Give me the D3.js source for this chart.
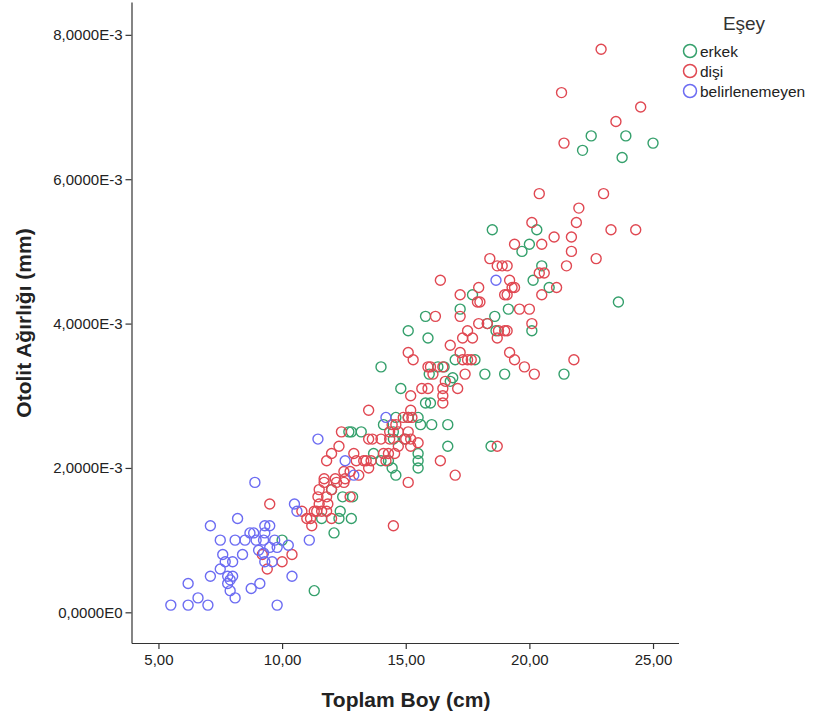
<!DOCTYPE html>
<html>
<head>
<meta charset="utf-8">
<script src="https://cdn.jsdelivr.net/npm/d3@7"></script>
<style>
  body { margin: 0; background: #fff; }
  text { font-family: "Liberation Sans", Arial, sans-serif; }
</style>
</head>
<body>
<svg id="chart" width="815" height="720"></svg>
<script>
// Otolith weight (×10⁻³ mm) against total length (cm), grouped by sex.
const groups = ["erkek", "dişi", "belirlenemeyen"];
const groupColors = ["#35a06c", "#e04852", "#6c6cf2"];

// [Toplam Boy (cm), Otolit Ağırlığı (×10⁻³)]
const erkek = [
  [25.0,6.5],[23.9,6.6],[22.5,6.6],[22.15,6.4],[23.75,6.3],[23.6,4.3],
  [18.5,5.3],[20.3,5.3],[19.7,5.0],[20.0,5.1],[20.5,4.8],[20.15,4.6],[20.8,4.5],
  [17.7,4.4],[17.2,4.2],[18.6,4.1],[19.15,4.2],[20.1,3.9],
  [15.8,4.1],[15.1,3.9],[15.9,3.8],[14.0,3.4],[17.0,3.5],[17.8,3.5],[18.2,3.3],[19.0,3.3],[21.4,3.3],
  [14.8,3.1],[16.0,2.9],[15.8,2.9],[16.55,3.4],[16.8,3.2],[16.9,3.25],
  [15.5,2.7],[15.1,2.7],[14.6,2.7],[14.1,2.6],[16.05,2.6],[16.7,2.6],[15.6,2.6],[16.7,2.3],
  [12.8,2.5],[13.2,2.5],[12.7,2.5],[13.7,2.2],[14.0,2.1],[14.3,2.1],[14.45,2.0],[14.6,1.9],
  [15.5,2.2],[15.5,2.1],[15.5,2.0],[18.45,2.3],
  [12.45,1.6],[12.85,1.6],[12.8,1.3],[12.3,1.3],[12.1,1.1],[11.6,1.3],[11.3,0.3],[10.0,1.0],[12.35,1.4],
  [14.5,2.5],[14.5,2.4],[14.95,2.4],[18.3,4.0],[18.65,3.9],[16.3,3.4],[15.95,3.3],[12.0,1.7]
];

const disi = [
  [22.9,7.8],[21.3,7.2],[24.5,7.0],[23.5,6.8],[21.4,6.5],
  [20.4,5.8],[23.0,5.8],[22.0,5.6],[21.9,5.4],[20.1,5.4],[23.3,5.3],[24.3,5.3],
  [21.0,5.2],[21.7,5.2],[19.4,5.1],[20.5,5.1],[21.7,5.0],[22.7,4.9],[18.4,4.9],[21.5,4.8],
  [18.7,4.8],[18.9,4.8],[19.1,4.8],[20.4,4.7],[20.6,4.7],[16.4,4.6],[19.2,4.6],
  [17.95,4.5],[19.3,4.5],[19.4,4.5],[21.1,4.5],[17.2,4.4],[19.0,4.4],[19.1,4.4],[20.5,4.4],
  [17.9,4.3],[18.0,4.3],[19.6,4.2],[20.0,4.2],[16.2,4.1],[17.2,4.1],[18.3,4.0],[17.95,4.0],[20.1,4.0],
  [17.5,3.9],[18.75,3.9],[19.0,3.9],[19.1,3.9],[17.3,3.8],[17.7,3.8],[18.7,3.8],[16.8,3.7],
  [15.1,3.6],[17.2,3.6],[19.2,3.6],[15.3,3.5],[17.3,3.5],[17.5,3.5],[17.65,3.5],[21.8,3.5],
  [16.0,3.4],[15.9,3.4],[16.5,3.4],[19.8,3.4],[16.1,3.3],[17.4,3.3],[20.2,3.3],[19.4,3.5],
  [16.6,3.2],[16.5,3.1],[17.1,3.1],[15.65,3.1],[15.9,3.1],[15.2,3.0],[16.5,3.0],[16.5,2.9],
  [13.5,2.8],[15.2,2.8],[15.1,2.7],[15.25,2.7],[14.9,2.7],[14.45,2.6],[14.6,2.6],
  [12.4,2.5],[14.35,2.5],[15.1,2.5],[14.7,2.5],[13.5,2.4],[14.0,2.4],[14.35,2.4],[15.0,2.4],[15.2,2.4],[13.65,2.4],
  [14.7,2.3],[15.2,2.3],[15.5,2.35],[12.3,2.3],[12.9,2.2],[14.3,2.2],[14.1,2.2],[14.55,2.2],[18.7,2.3],[12.0,2.2],
  [11.8,2.1],[13.0,2.1],[13.3,2.1],[13.4,2.1],[13.6,2.1],[14.2,2.1],[16.4,2.1],[13.5,2.0],
  [17.0,1.9],[15.1,1.8],[12.5,1.95],[12.75,1.95],[13.1,1.9],[11.7,1.85],[12.15,1.85],
  [11.7,1.8],[12.2,1.8],[12.5,1.8],[12.55,1.85],
  [11.45,1.6],[11.8,1.6],[12.75,1.6],[9.5,1.5],[11.5,1.5],[11.85,1.5],[11.5,1.7],[12.0,1.7],
  [10.8,1.4],[11.8,1.4],[11.3,1.4],[11.4,1.4],[11.6,1.4],[11.0,1.3],[11.15,1.3],[12.0,1.3],[11.2,1.2],[14.5,1.2],
  [10.4,0.8],[10.0,0.7],[9.4,0.6],[9.2,0.8]
];

const belirlenemeyen = [
  [18.65,4.6],[14.2,2.7],[11.45,2.4],[12.55,2.1],[12.9,1.9],[8.9,1.8],[10.5,1.5],[10.6,1.4],[11.1,1.0],
  [8.2,1.3],[7.1,1.2],[9.3,1.2],[9.5,1.2],[7.5,1.0],[8.1,1.0],[8.5,1.0],[8.7,1.1],[8.85,1.1],[8.95,1.0],
  [9.3,1.1],[9.25,1.0],[9.7,1.0],[9.5,0.9],[9.8,0.9],[10.25,0.93],[9.05,0.86],[9.25,0.82],[8.4,0.8],[7.6,0.8],
  [9.3,0.7],[9.6,0.7],[7.7,0.7],[8.0,0.7],[7.5,0.6],[8.0,0.5],[7.8,0.5],[7.1,0.5],[10.4,0.5],
  [7.8,0.4],[7.9,0.45],[9.1,0.4],[7.9,0.3],[8.75,0.33],[8.1,0.2],
  [6.2,0.4],[6.6,0.2],[5.5,0.1],[6.2,0.1],[7.0,0.1],[9.8,0.1]
];

const xTicks = [5, 10, 15, 20, 25];
const xTickLabels = ["5,00", "10,00", "15,00", "20,00", "25,00"];
const yTicks = [0, 2, 4, 6, 8];
const yTickLabels = ["0,0000E0", "2,0000E-3", "4,0000E-3", "6,0000E-3", "8,0000E-3"];

const xTitle = "Toplam Boy (cm)";
const yTitle = "Otolit Ağırlığı (mm)";
const legendTitle = "Eşey";

const svg = d3.select("#chart");

const x = d3.scaleLinear().domain([3.91, 26.03]).range([131.5, 678.5]);
const y = d3.scaleLinear().domain([-0.425, 8.455]).range([643, 2]);

const axisColor = "#333";

// x axis
const gx = svg.append("g").attr("transform", `translate(0,${y.range()[0]})`)
  .call(d3.axisBottom(x).tickValues(xTicks).tickSizeOuter(0).tickSizeInner(6).tickPadding(5)
    .tickFormat((d, i) => xTickLabels[i]));
// y axis
const gy = svg.append("g").attr("transform", `translate(${x.range()[0]},0)`)
  .call(d3.axisLeft(y).tickValues(yTicks).tickSizeOuter(0).tickSizeInner(6).tickPadding(3)
    .tickFormat((d, i) => yTickLabels[i]));

[gx, gy].forEach(g => {
  g.select(".domain").attr("stroke", axisColor).attr("stroke-width", 1.2);
  g.selectAll(".tick line").attr("stroke", axisColor).attr("stroke-width", 1.2);
  g.selectAll(".tick text").attr("fill", "#222").style("font-size", "15px")
    .style("font-family", "'Liberation Sans', Arial, sans-serif");
});

// axis titles
svg.append("text")
  .attr("x", 406).attr("y", 707)
  .attr("text-anchor", "middle").attr("font-weight", "bold").attr("font-size", 21)
  .attr("fill", "#222").text(xTitle);
svg.append("text")
  .attr("transform", `translate(31,323) rotate(-90)`)
  .attr("text-anchor", "middle").attr("font-weight", "bold").attr("font-size", 21)
  .attr("fill", "#222").text(yTitle);

// points
const series = [erkek, disi, belirlenemeyen];
series.forEach((pts, gi) => {
  svg.append("g").selectAll("circle").data(pts).join("circle")
    .attr("cx", d => x(d[0])).attr("cy", d => y(d[1])).attr("r", 5)
    .attr("fill", "none").attr("stroke", groupColors[gi]).attr("stroke-width", 1.4);
});

// legend
const lg = svg.append("g");
lg.append("text").attr("x", 744).attr("y", 30).attr("text-anchor", "middle")
  .attr("font-size", 19).attr("fill", "#333").text(legendTitle);
groups.forEach((g, i) => {
  const cy = 51 + i * 20;
  lg.append("circle").attr("cx", 690).attr("cy", cy).attr("r", 6.5)
    .attr("fill", "none").attr("stroke", groupColors[i]).attr("stroke-width", 1.5);
  lg.append("text").attr("x", 700).attr("y", cy + 5.5)
    .attr("font-size", 15.5).attr("fill", "#222").text(g);
});
</script>
</body>
</html>
